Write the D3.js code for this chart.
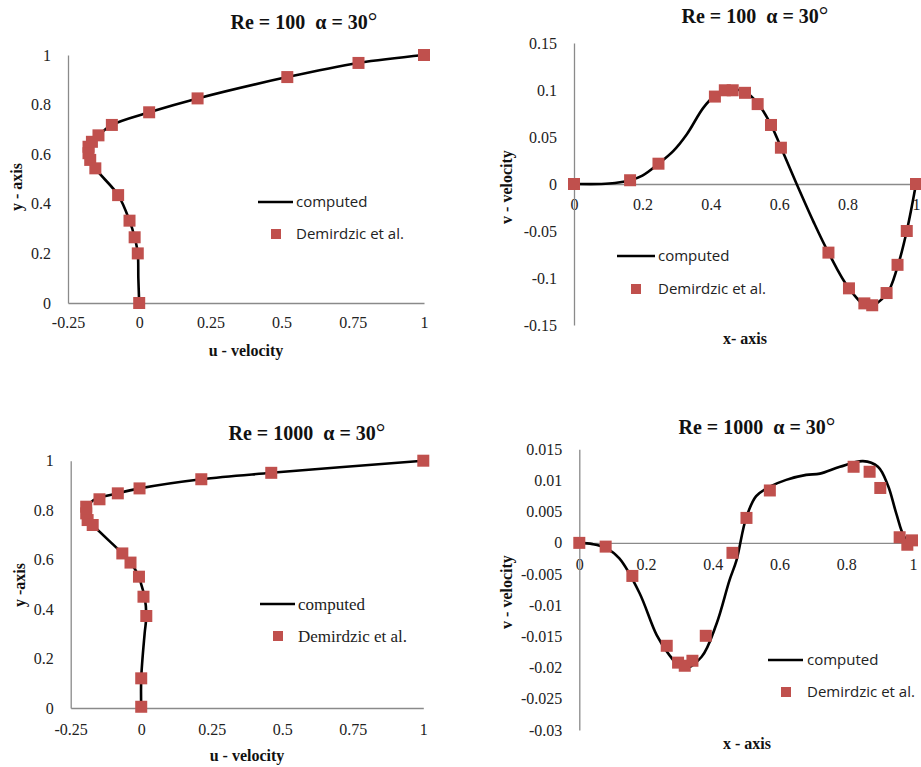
<!DOCTYPE html>
<html>
<head>
<meta charset="utf-8">
<script src="https://cdn.jsdelivr.net/npm/d3@7"></script>
<style>
  html, body { margin: 0; padding: 0; background: #fff; }
  svg { display: block; }
  text { white-space: pre; }
</style>
</head>
<body>
<svg id="chart" width="921" height="767"></svg>
<script>
// ---------- DATA ----------
// Panel 1: Re = 100, u-velocity along vertical centreline
const p1MarkU = [1, 0.77, 0.52, 0.205, 0.035, -0.096, -0.143, -0.166, -0.178, -0.178, -0.172, -0.154, -0.074, -0.034, -0.016, -0.005, 0];
const p1MarkY = [1, 0.968, 0.911, 0.825, 0.769, 0.718, 0.676, 0.650, 0.630, 0.604, 0.577, 0.543, 0.435, 0.332, 0.265, 0.2, 0];
const p1LineU = [0, -0.003, -0.005, -0.016, -0.034, -0.074, -0.154, -0.175, -0.178, -0.168, -0.143, -0.096, 0.035, 0.205, 0.52, 0.77, 1];
const p1LineY = [0, 0.1, 0.2, 0.265, 0.332, 0.435, 0.543, 0.59, 0.62, 0.65, 0.676, 0.718, 0.769, 0.825, 0.911, 0.968, 1];

// Panel 2: Re = 100, v-velocity along horizontal centreline
const p2MarkX = [0, 0.164, 0.247, 0.412, 0.441, 0.464, 0.5, 0.537, 0.576, 0.605, 0.744, 0.804, 0.849, 0.872, 0.914, 0.946, 0.973, 1];
const p2MarkV = [0, 0.004, 0.0216, 0.093, 0.0997, 0.0997, 0.097, 0.085, 0.0628, 0.0386, -0.073, -0.111, -0.127, -0.129, -0.116, -0.086, -0.05, 0];
const p2LineX = [0, 0.08, 0.12, 0.164, 0.2, 0.247, 0.29, 0.33, 0.378, 0.412, 0.45, 0.5, 0.537, 0.576, 0.605, 0.651, 0.7, 0.744, 0.804, 0.86, 0.914, 0.946, 0.973, 1];
const p2LineV = [0, 0, 0.001, 0.004, 0.009, 0.0216, 0.035, 0.053, 0.081, 0.094, 0.1, 0.098, 0.086, 0.063, 0.039, 0, -0.04, -0.073, -0.111, -0.13, -0.117, -0.088, -0.05, 0];

// Panel 3: Re = 1000, u-velocity
const p3MarkU = [1, 0.461, 0.213, -0.006, -0.083, -0.148, -0.195, -0.195, -0.19, -0.172, -0.067, -0.038, -0.008, 0.008, 0.018, 0, 0];
const p3MarkY = [1, 0.951, 0.925, 0.888, 0.868, 0.844, 0.814, 0.787, 0.760, 0.740, 0.625, 0.588, 0.531, 0.45, 0.372, 0.12, 0.005];
const p3LineU = [0, 0, 0.012, 0.018, 0.012, 0, -0.008, -0.038, -0.067, -0.172, -0.193, -0.195, -0.17, -0.083, -0.006, 0.213, 0.461, 1];
const p3LineY = [0, 0.12, 0.3, 0.372, 0.45, 0.5, 0.531, 0.588, 0.625, 0.74, 0.77, 0.8, 0.84, 0.868, 0.888, 0.925, 0.951, 1];

// Panel 4: Re = 1000, v-velocity
const p4MarkX = [0, 0.079, 0.159, 0.262, 0.296, 0.316, 0.339, 0.379, 0.459, 0.501, 0.571, 0.822, 0.870, 0.902, 0.960, 0.983, 0.997];
const p4MarkV = [0, -0.0006, -0.0053, -0.0165, -0.0192, -0.0197, -0.0189, -0.0149, -0.0016, 0.0040, 0.0084, 0.0122, 0.0114, 0.0088, 0.0009, -0.0003, 0.0004];
const p4LineX = [0, 0.04, 0.079, 0.12, 0.18, 0.232, 0.27, 0.311, 0.366, 0.411, 0.45, 0.471, 0.5, 0.53, 0.571, 0.62, 0.68, 0.721, 0.781, 0.85, 0.895, 0.925, 0.95, 0.975, 1];
const p4LineV = [0, -0.0002, -0.0008, -0.0025, -0.008, -0.0148, -0.018, -0.0202, -0.0183, -0.013, -0.006, -0.0028, 0.004, 0.0075, 0.009, 0.0101, 0.0109, 0.0111, 0.0122, 0.0131, 0.0122, 0.0092, 0.0047, 0.0009, 0];

// Tick values / labels
const uTicks = [-0.25, 0, 0.25, 0.5, 0.75, 1];
const uTickLabels = ["-0.25", "0", "0.25", "0.5", "0.75", "1"];
const yTicks = [0, 0.2, 0.4, 0.6, 0.8, 1];
const yTickLabels = ["0", "0.2", "0.4", "0.6", "0.8", "1"];
const xTicks = [0, 0.2, 0.4, 0.6, 0.8, 1];
const xTickLabels = ["0", "0.2", "0.4", "0.6", "0.8", "1"];
const v100Ticks = [-0.15, -0.1, -0.05, 0, 0.05, 0.1, 0.15];
const v100TickLabels = ["-0.15", "-0.1", "-0.05", "0", "0.05", "0.1", "0.15"];
const v1000Ticks = [-0.03, -0.025, -0.02, -0.015, -0.01, -0.005, 0, 0.005, 0.01, 0.015];
const v1000TickLabels = ["-0.03", "-0.025", "-0.02", "-0.015", "-0.01", "-0.005", "0", "0.005", "0.01", "0.015"];

const titleRe = ["Re = 100", "Re = 100", "Re = 1000", "Re = 1000"];
const titleAlpha = "\u03b1 = 30";
const xTitles = ["u - velocity", "x- axis", "u - velocity", "x - axis"];
const yTitles = ["y - axis", "v - velocity", "y -axis", "v - velocity"];
const legendLabels = ["computed", "Demirdzic et al."];

// ---------- STYLE / LAYOUT ----------
const MARK = "#C0504D";
const AXIS = "#8a8a8a";
const SERIF = "Liberation Serif, Times New Roman, serif";
const SANS = "Open Sans, Liberation Sans, sans-serif";

const svg = d3.select("#chart");
svg.append("rect").attr("width", 921).attr("height", 767).attr("fill", "#fff");

const zip = (a, b) => a.map((d, i) => [d, b[i]]);

const panels = [
  { xDom: [-0.25, 1], xRange: [68, 424], yDom: [0, 1], yRange: [303, 55],
    xTicks: uTicks, xLabels: uTickLabels, yTicks: yTicks, yLabels: yTickLabels,
    marks: zip(p1MarkU, p1MarkY), line: zip(p1LineU, p1LineY),
    re: titleRe[0], titlePos: [304, 29], xTitle: xTitles[0], xTitlePos: [246, 356],
    yTitle: yTitles[0], yTitlePos: [22, 187], xPad: 14,
    leg: { lx: [258, 293], ly: 202, tx: 296, sx: 276, sy: 234, font: SANS, size: 15 } },
  { xDom: [0, 1], xRange: [574, 916], yDom: [-0.15, 0.15], yRange: [325, 43],
    xTicks: xTicks, xLabels: xTickLabels, yTicks: v100Ticks, yLabels: v100TickLabels,
    marks: zip(p2MarkX, p2MarkV), line: zip(p2LineX, p2LineV),
    re: titleRe[1], titlePos: [755, 23], xTitle: xTitles[1], xTitlePos: [745, 344],
    yTitle: yTitles[1], yTitlePos: [512, 187], xPad: 15,
    leg: { lx: [617, 655], ly: 256, tx: 658, sx: 636, sy: 289, font: SANS, size: 15 } },
  { xDom: [-0.25, 1], xRange: [70.7, 423.3], yDom: [0, 1], yRange: [708, 460.7],
    xTicks: uTicks, xLabels: uTickLabels, yTicks: yTicks, yLabels: yTickLabels,
    marks: zip(p3MarkU, p3MarkY), line: zip(p3LineU, p3LineY),
    re: titleRe[2], titlePos: [307, 440], xTitle: xTitles[2], xTitlePos: [247, 761],
    yTitle: yTitles[2], yTitlePos: [25, 585], xPad: 16,
    leg: { lx: [260, 295], ly: 604, tx: 298, sx: 278, sy: 636, font: SERIF, size: 17 } },
  { xDom: [0, 1], xRange: [579.3, 913], yDom: [-0.03, 0.015], yRange: [730, 449.3],
    xTicks: xTicks, xLabels: xTickLabels, yTicks: v1000Ticks, yLabels: v1000TickLabels,
    marks: zip(p4MarkX, p4MarkV), line: zip(p4LineX, p4LineV),
    re: titleRe[3], titlePos: [757, 434], xTitle: xTitles[3], xTitlePos: [747, 749],
    yTitle: yTitles[3], yTitlePos: [512, 592], xPad: 16,
    leg: { lx: [768, 803], ly: 660, tx: 807, sx: 786, sy: 692, font: SANS, size: 15 } }
];

panels.forEach(p => {
  const g = svg.append("g");
  const x = d3.scaleLinear().domain(p.xDom).range(p.xRange);
  const y = d3.scaleLinear().domain(p.yDom).range(p.yRange);

  const xAxis = d3.axisBottom(x).tickValues(p.xTicks)
    .tickFormat((d, i) => p.xLabels[i]).tickSize(0).tickPadding(p.xPad);
  const gx = g.append("g").attr("transform", `translate(0,${y(0)})`).call(xAxis);
  const yAxis = d3.axisLeft(y).tickValues(p.yTicks)
    .tickFormat((d, i) => p.yLabels[i]).tickSize(0).tickPadding(17);
  const gy = g.append("g").attr("transform", `translate(${x(p.xDom[0])},0)`).call(yAxis);

  [gx, gy].forEach(a => {
    a.attr("font-family", SERIF).attr("font-size", 16);
    a.select(".domain").attr("stroke", AXIS).attr("stroke-width", 1.3);
    a.selectAll("text").attr("font-family", SERIF).attr("font-size", 16).attr("fill", "#222");
  });

  const lineGen = d3.line().x(d => x(d[0])).y(d => y(d[1])).curve(d3.curveCatmullRom.alpha(0.5));
  g.append("path").datum(p.line).attr("d", lineGen)
    .attr("fill", "none").attr("stroke", "#000").attr("stroke-width", 2.6);

  const ms = 12;
  g.selectAll("rect.mk").data(p.marks).enter().append("rect")
    .attr("class", "mk")
    .attr("x", d => x(d[0]) - ms / 2).attr("y", d => y(d[1]) - ms / 2)
    .attr("width", ms).attr("height", ms).attr("fill", MARK);

  const t = g.append("text").attr("x", p.titlePos[0]).attr("y", p.titlePos[1])
    .attr("text-anchor", "middle").attr("font-family", SERIF).attr("font-weight", "bold")
    .attr("font-size", 20).attr("fill", "#111");
  t.append("tspan").text(p.re + "  " + titleAlpha);
  t.append("tspan").attr("font-size", 24).attr("font-weight", "normal").text("\u00b0");

  g.append("text").attr("x", p.xTitlePos[0]).attr("y", p.xTitlePos[1])
    .attr("text-anchor", "middle").attr("font-family", SERIF).attr("font-weight", "bold")
    .attr("font-size", 16).attr("fill", "#111").text(p.xTitle);
  g.append("text").attr("transform", `translate(${p.yTitlePos[0]},${p.yTitlePos[1]}) rotate(-90)`)
    .attr("text-anchor", "middle").attr("font-family", SERIF).attr("font-weight", "bold")
    .attr("font-size", 16).attr("fill", "#111").text(p.yTitle);

  const L = p.leg;
  g.append("line").attr("x1", L.lx[0]).attr("x2", L.lx[1]).attr("y1", L.ly).attr("y2", L.ly)
    .attr("stroke", "#000").attr("stroke-width", 2.6);
  g.append("text").attr("x", L.tx).attr("y", L.ly).attr("dy", "0.35em")
    .attr("font-family", L.font).attr("font-size", L.size).attr("fill", "#222").text(legendLabels[0]);
  g.append("rect").attr("x", L.sx - 5).attr("y", L.sy - 5).attr("width", 10).attr("height", 10).attr("fill", MARK);
  g.append("text").attr("x", L.tx).attr("y", L.sy).attr("dy", "0.35em")
    .attr("font-family", L.font).attr("font-size", L.size).attr("fill", "#222").text(legendLabels[1]);
});
</script>
</body>
</html>
